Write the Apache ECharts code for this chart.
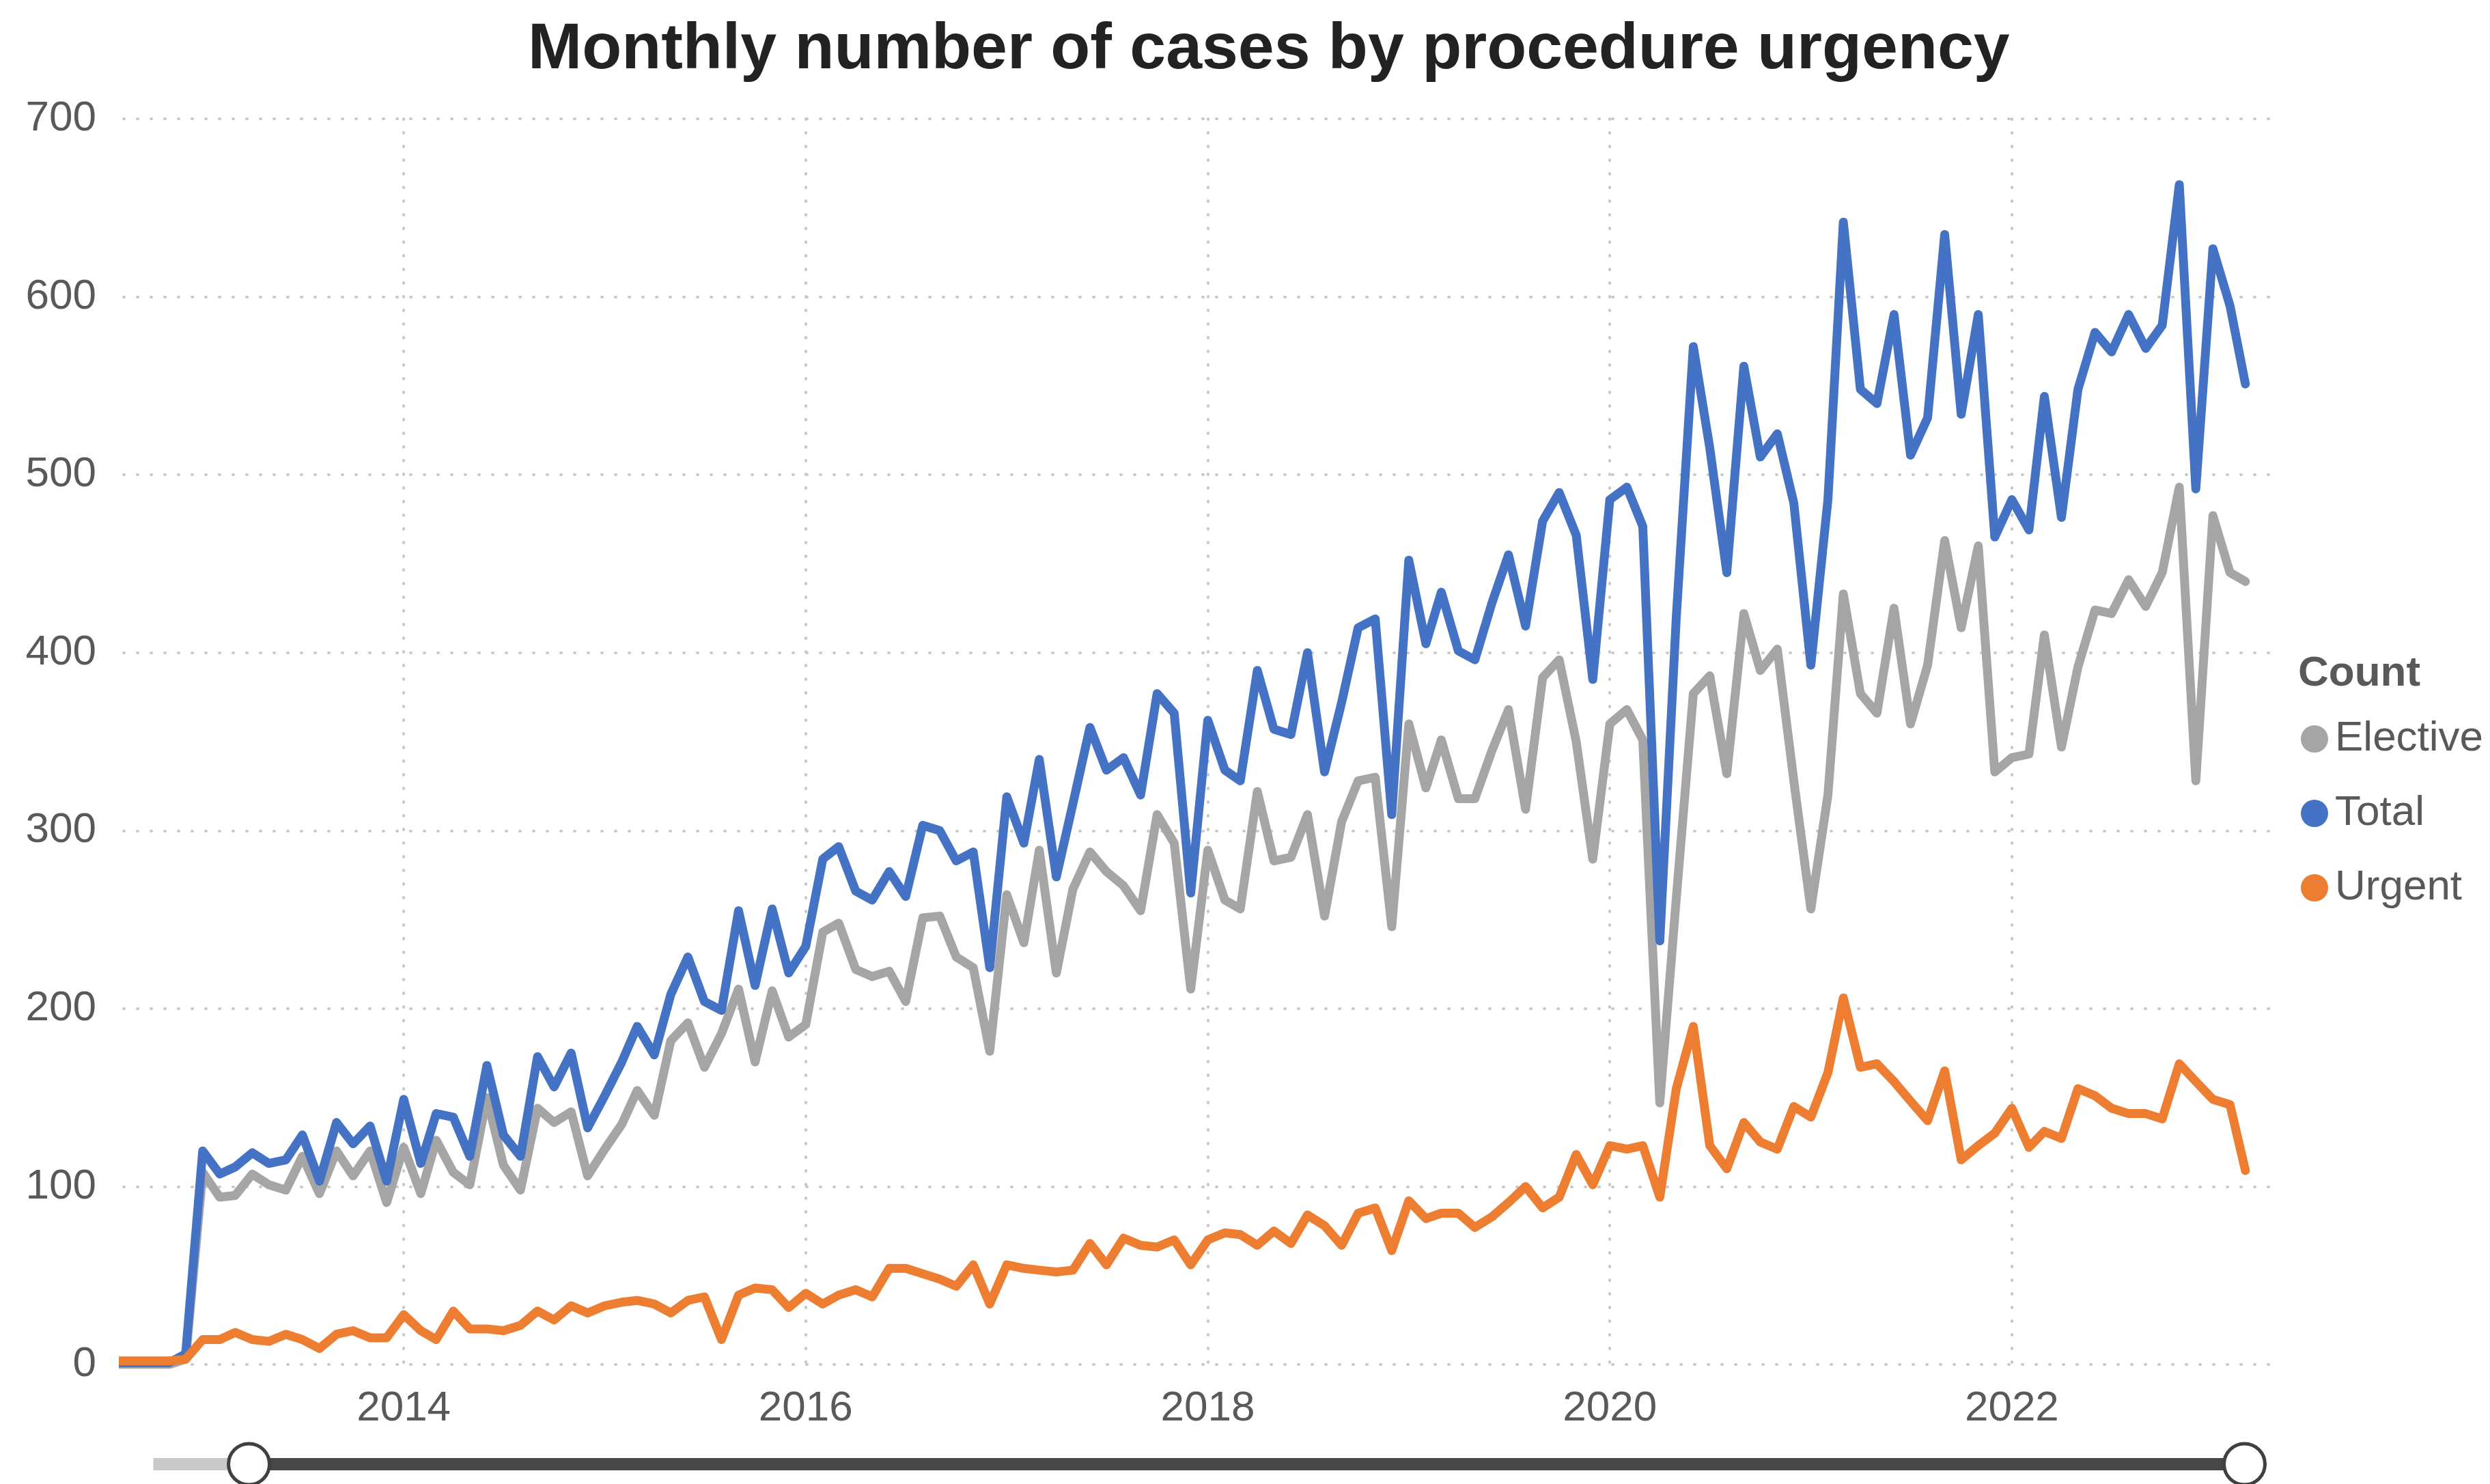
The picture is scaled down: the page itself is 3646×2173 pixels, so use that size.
<!DOCTYPE html>
<html>
<head>
<meta charset="utf-8">
<script src="https://cdn.jsdelivr.net/npm/echarts@6/dist/echarts.min.js"></script>
<style>
html,body{margin:0;padding:0;background:#fff;}
#chart{width:3646px;height:2173px;}
</style>
</head>
<body>
<div id="chart"></div>
<script>
// ---- data (monthly, first month 2012-08) ----
const startYear = 2012, startMonth = 8;
const seriesNames = ['Elective', 'Total', 'Urgent'];
const yTicks = [0, 100, 200, 300, 400, 500, 600, 700];

const total = [
  1, 1, 1, 1, 6,
  120, 107, 111, 119, 113, 115, 129, 103, 136, 124, 134, 103,
  149, 113, 141, 139, 117, 168, 129, 117, 173, 156, 175, 133,
  151, 170, 190, 174, 208, 229, 204, 199, 255, 213, 256, 220,
  235, 284, 291, 266, 261, 277, 263, 303, 300, 283, 288, 223,
  319, 293, 340, 274, 315, 358, 334, 341, 320, 377, 366, 265,
  362, 334, 328, 390, 357, 354, 400, 333, 372, 414, 419, 309,
  452, 405, 434, 401, 396, 428, 455, 415, 474, 490, 466, 385,
  486, 493, 471, 238, 420, 572, 515, 445, 561, 510, 523, 484,
  393, 486, 642, 548, 540, 590, 511, 532, 635, 534, 590, 465,
  486, 469, 544, 476, 548, 580, 569, 590, 571, 584, 663, 492,
  627, 595, 551
];
const elective = [
  0, 0, 0, 0, 3,
  108, 94, 95, 107, 101, 98, 117, 96, 120, 106, 120, 91,
  122, 96, 126, 108, 101, 150, 112, 98, 144, 136, 142, 106,
  121, 135, 154, 140, 182, 192, 167, 186, 211, 170, 210, 184,
  191, 243, 248, 222, 218, 221, 204, 251, 252, 229, 223, 176,
  264, 237, 289, 220, 267, 288, 277, 269, 255, 309, 293, 211,
  289, 261, 256, 322, 283, 285, 309, 252, 305, 328, 330, 246,
  360, 324, 351, 318, 318, 345, 368, 312, 386, 396, 350, 284,
  360, 368, 351, 147, 262, 377, 387, 332, 422, 390, 402, 328,
  256, 320, 433, 377, 366, 425, 360, 393, 463, 414, 460, 333,
  341, 343, 410, 347, 392, 424, 422, 441, 426, 445, 493, 328,
  477, 445, 440
];
const urgent = [
  2, 2, 2, 2, 3,
  14, 14, 18, 14, 13, 17, 14, 9, 17, 19, 15, 15,
  28, 19, 14, 30, 20, 20, 19, 22, 30, 25, 33, 29,
  33, 35, 36, 34, 29, 36, 38, 14, 39, 43, 42, 32,
  40, 34, 39, 42, 38, 54, 54, 51, 48, 44, 56, 34,
  56, 54, 53, 52, 53, 68, 56, 71, 67, 66, 70, 56,
  70, 74, 73, 67, 75, 68, 84, 78, 67, 85, 88, 64,
  92, 82, 85, 85, 77, 83, 91, 100, 88, 94, 118, 101,
  123, 121, 123, 94, 155, 190, 123, 110, 136, 125, 121, 145,
  139, 164, 206, 167, 169, 159, 148, 137, 165, 115, 123, 130,
  144, 122, 131, 127, 155, 151, 144, 141, 141, 138, 169, 159,
  149, 146, 109
];

// month list
const months = [];
for (let i = 0; i < total.length; i++) {
  const m0 = startMonth - 1 + i;
  const y = startYear + Math.floor(m0 / 12);
  const m = (m0 % 12) + 1;
  months.push(y + '-' + String(m).padStart(2, '0'));
}
// convert 'YYYY-MM' (first of month) to a decimal year position
function decYear(ym) {
  const y = +ym.slice(0, 4), m = +ym.slice(5, 7);
  const t0 = Date.UTC(y, 0, 1), t1 = Date.UTC(y + 1, 0, 1), t = Date.UTC(y, m - 1, 1);
  return y + (t - t0) / (t1 - t0);
}
const pair = arr => arr.map((v, i) => [decYear(months[i]), v]);

const FONT = '"Liberation Sans", Arial, Helvetica, sans-serif';
const TXT = '#595959';
const dotted = { color: '#c8c8c8', width: 4, type: [1, 19], cap: 'round' };
const LW = 13;

const chart = echarts.init(document.getElementById('chart'), null, { renderer: 'canvas' });
chart.setOption({
  backgroundColor: '#ffffff',
  animation: false,
  color: ['#A5A5A5', '#4472C4', '#ED7D31'],
  title: [
    { text: 'Monthly number of cases by procedure urgency', left: 768, top: 21,
      textStyle: { fontFamily: FONT, fontSize: 95, fontWeight: 'bold', color: '#222222' } },
    { text: 'Count', left: 3360, top: 951,
      textStyle: { fontFamily: FONT, fontSize: 62, fontWeight: 'bold', color: TXT } }
  ],
  legend: {
    data: seriesNames, orient: 'vertical', left: 3364, top: 1046,
    icon: 'circle', itemWidth: 40, itemHeight: 40, itemGap: 47,
    textStyle: { fontFamily: FONT, fontSize: 62, color: TXT, lineHeight: 40, padding: [0, 0, 0, 5] }
  },
  grid: [
    { left: 181, right: 321, top: 174, bottom: 175 },
    { left: 221, width: 3063, top: 2100, height: 2, show: false }
  ],
  xAxis: [
    { type: 'value', min: 2012.6066, max: 2023.288, splitNumber: 5,
      axisLine: { show: false }, axisTick: { show: false },
      axisLabel: { fontFamily: FONT, fontSize: 62, color: TXT, margin: 34,
        showMinLabel: false, showMaxLabel: false,
        formatter: v => String(Math.round(v)) },
      splitLine: { show: true, showMinLine: false, showMaxLine: false, lineStyle: dotted } },
    { type: 'value', gridIndex: 1, min: 0, max: 100, show: false }
  ],
  yAxis: [
    { type: 'value', min: yTicks[0], max: yTicks[yTicks.length - 1], interval: 100,
      axisLine: { show: false }, axisTick: { show: false },
      axisLabel: { fontFamily: FONT, fontSize: 62, color: TXT, margin: 40 },
      splitLine: { show: true, lineStyle: dotted } },
    { type: 'value', gridIndex: 1, show: false }
  ],
  dataZoom: [{
    type: 'slider', xAxisIndex: 1, filterMode: 'none', start: 4.54, end: 100,
    left: 221, width: 3063, top: 2135, height: 18,
    backgroundColor: '#c9c9c7', borderColor: 'transparent', borderRadius: 9,
    fillerColor: '#474747',
    showDataShadow: false, showDetail: false, brushSelect: false, moveHandleSize: 0,
    handleIcon: 'circle', handleSize: 60,
    handleStyle: { color: '#ffffff', borderColor: '#404040', borderWidth: 5 },
    emphasis: { handleStyle: { color: '#ffffff', borderColor: '#404040', borderWidth: 5 } },
    dataBackground: { lineStyle: { opacity: 0 }, areaStyle: { opacity: 0 } },
    selectedDataBackground: { lineStyle: { opacity: 0 }, areaStyle: { opacity: 0 } }
  }],
  series: [
    { name: 'Elective', type: 'line', data: pair(elective), showSymbol: false, symbol: 'none',
      lineStyle: { width: LW, color: '#A5A5A5', join: 'round', cap: 'round' } },
    { name: 'Total', type: 'line', data: pair(total), showSymbol: false, symbol: 'none',
      lineStyle: { width: LW, color: '#4472C4', join: 'round', cap: 'round' } },
    { name: 'Urgent', type: 'line', data: pair(urgent), showSymbol: false, symbol: 'none',
      lineStyle: { width: LW, color: '#ED7D31', join: 'round', cap: 'round' } },
    { name: '_slider', type: 'line', xAxisIndex: 1, yAxisIndex: 1, data: [[0, 0], [100, 0]],
      showSymbol: false, silent: true, lineStyle: { opacity: 0 } }
  ]
});
</script>
</body>
</html>
